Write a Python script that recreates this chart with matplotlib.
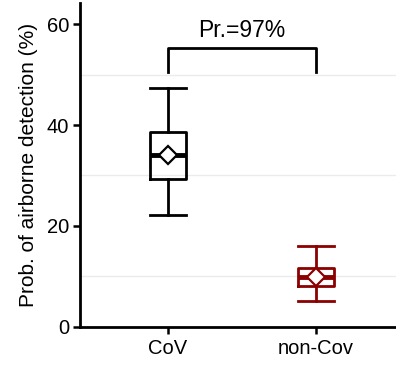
import matplotlib.pyplot as plt

plt.rcParams['font.family'] = ['Liberation Sans', 'DejaVu Sans']

# datos
grupos = ['CoV', 'non-Cov']
colores = ['black', '#8B0000']
bigote_inf = [22.2, 5.1]
q1 = [29.4, 8.1]
mediana = [34.1, 9.9]
q3 = [38.6, 11.7]
bigote_sup = [47.3, 16.0]
media = [34.0, 9.9]
texto_pr = 'Pr.=97%'

fig = plt.figure(figsize=(3.96, 3.66), dpi=100)
ax = fig.add_axes([0.202, 0.107, 0.798, 0.885])

# lineas de la cuadricula en 10, 30, 50
for yv in [10, 30, 50]:
    ax.axhline(yv, color='#ebebeb', lw=1, zorder=0)

for i, g in enumerate(grupos):
    stats = [{'whislo': bigote_inf[i], 'q1': q1[i], 'med': mediana[i],
              'q3': q3[i], 'whishi': bigote_sup[i], 'mean': media[i],
              'fliers': [], 'label': g}]
    c = colores[i]
    ax.bxp(stats, positions=[i + 1], widths=0.245, showmeans=True,
           boxprops=dict(color=c, lw=2),
           whiskerprops=dict(color=c, lw=2),
           capprops=dict(color=c, lw=2),
           medianprops=dict(color=c, lw=3.5),
           meanprops=dict(marker='D', markerfacecolor='white',
                          markeredgecolor=c, markersize=9.5, markeredgewidth=1.6),
           capwidths=0.245, manage_ticks=False)

# corchete de comparacion
ax.plot([1, 1, 2, 2], [50.5, 55.2, 55.2, 50.5], color='black', lw=2)
ax.text(1.5, 57.4, texto_pr, ha='center', va='baseline', fontsize=16.5)

ax.set_xlim(0.405, 2.54)
ax.set_ylim(0, 64.2)
ax.set_xticks([1, 2])
ax.set_xticklabels(grupos, fontsize=14.5)
ax.set_yticks([0, 20, 40, 60])
ax.tick_params(axis='y', labelsize=14.5, width=1.8, length=5, pad=3)
ax.tick_params(axis='x', width=1.8, length=5, pad=4)
ax.set_ylabel('Prob. of airborne detection (%)', fontsize=15, labelpad=6)
for s in ['top', 'right']:
    ax.spines[s].set_visible(False)
for s in ['left', 'bottom']:
    ax.spines[s].set_linewidth(2)

fig.savefig('out.png', dpi=100)
